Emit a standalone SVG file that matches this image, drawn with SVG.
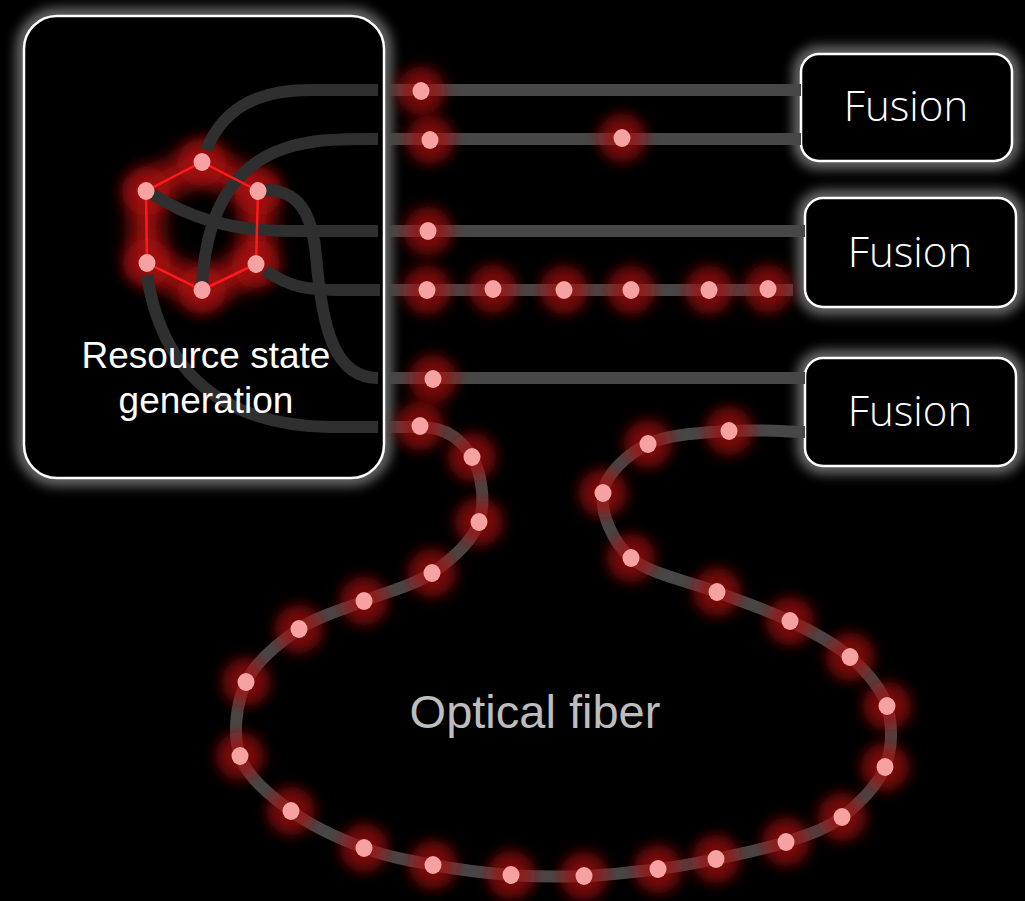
<svg xmlns="http://www.w3.org/2000/svg" xmlns:xlink="http://www.w3.org/1999/xlink" width="1025" height="901" viewBox="0 0 1025 901">
  <style>
    .box { fill: #000; stroke: #fff; stroke-width: 2.5; }
    .halo { fill: none; stroke: #6a6a6a; stroke-width: 16; }
    .inner { fill: none; stroke: #2f2f2f; stroke-width: 12; }
    .wire { fill: none; stroke: #474747; stroke-width: 12; }
    .label { font-family: "Liberation Sans", Arial, sans-serif; text-anchor: middle; }
    .fusion { font-family: "Open Sans", "Noto Sans", sans-serif; font-weight: 300; font-size: 42px; fill: #fff; text-anchor: middle; }
    .dot { fill: #f6a2a2; }
    .glow { fill: #a81010; opacity: 0.7; }
  </style>
  <defs>
    <filter id="soft" x="-100%" y="-100%" width="300%" height="300%">
      <feGaussianBlur stdDeviation="7"/>
    </filter>
    <filter id="haze" x="-20%" y="-20%" width="140%" height="140%">
      <feGaussianBlur stdDeviation="6"/>
    </filter>
    <filter id="ring" x="-50%" y="-50%" width="200%" height="200%">
      <feGaussianBlur stdDeviation="10"/>
    </filter>
    <g id="photon">
      <circle class="glow" r="24" filter="url(#soft)"/>
      <ellipse class="dot" rx="8.5" ry="9"/>
    </g>
  </defs>

  <rect width="1025" height="901" fill="#000"/>

  <!-- resource state generator -->
  <g id="resource-state-generation">
    <rect class="halo" x="24" y="16" width="360" height="462" rx="33" filter="url(#haze)"/>
    <rect class="box" x="24" y="16" width="360" height="462" rx="33"/>
    <!-- glow behind the hexagonal cluster state -->
    <polygon points="202,162 258,191 256,264 202,290 147,263 146,191" fill="none" stroke="#c01414" stroke-width="32" opacity="0.8" filter="url(#ring)"/>
    <g>
      <circle class="glow" cx="202" cy="162" r="24" filter="url(#soft)"/>
      <circle class="glow" cx="258" cy="191" r="24" filter="url(#soft)"/>
      <circle class="glow" cx="256" cy="264" r="24" filter="url(#soft)"/>
      <circle class="glow" cx="202" cy="290" r="24" filter="url(#soft)"/>
      <circle class="glow" cx="147" cy="263" r="24" filter="url(#soft)"/>
      <circle class="glow" cx="146" cy="191" r="24" filter="url(#soft)"/>
    </g>
    <!-- waveguides leaving the cluster -->
    <g id="internal-routing">
      <path class="inner" d="M206,150 C222,112 252,90 310,90 L378,90"/>
      <path class="inner" d="M202,285 C205,230 222,175 275,152 C310,138 340,139 378,139"/>
      <path class="inner" d="M152,194 C185,215 225,231 290,231 L378,231"/>
      <path class="inner" d="M265,270 C290,288 310,290 340,290 L380,290"/>
      <path class="inner" d="M265,190 C300,190 312,215 316,255 C322,330 335,378 378,378"/>
      <path class="inner" d="M147,275 C160,360 210,425 330,427 L378,427"/>
    </g>
    <polygon points="202,162 258,191 256,264 202,290 147,263 146,191" fill="none" stroke="#ff1a1a" stroke-width="2.5"/>
    <g class="dot">
      <ellipse cx="202" cy="162" rx="8.5" ry="9"/>
      <ellipse cx="258" cy="191" rx="8.5" ry="9"/>
      <ellipse cx="256" cy="264" rx="8.5" ry="9"/>
      <ellipse cx="202" cy="290" rx="8.5" ry="9"/>
      <ellipse cx="147" cy="263" rx="8.5" ry="9"/>
      <ellipse cx="146" cy="191" rx="8.5" ry="9"/>
    </g>
    <text class="label" x="206" y="368" font-size="37" fill="#fff">Resource state</text>
    <text class="label" x="206" y="413" font-size="37" fill="#fff">generation</text>
  </g>

  <!-- fusion units -->
  <g id="fusion-1">
    <rect class="halo" x="801" y="54" width="211" height="107" rx="18" filter="url(#haze)"/>
    <rect class="box" x="801" y="54" width="211" height="107" rx="18"/>
    <text class="fusion" x="906" y="121">Fusion</text>
  </g>
  <g id="fusion-2">
    <rect class="halo" x="805" y="198" width="211" height="109" rx="18" filter="url(#haze)"/>
    <rect class="box" x="805" y="198" width="211" height="109" rx="18"/>
    <text class="fusion" x="910" y="267">Fusion</text>
  </g>
  <g id="fusion-3">
    <rect class="halo" x="805" y="358" width="211" height="108" rx="18" filter="url(#haze)"/>
    <rect class="box" x="805" y="358" width="211" height="108" rx="18"/>
    <text class="fusion" x="910" y="426">Fusion</text>
  </g>

  <!-- waveguides and fiber delay line -->
  <g id="connectors">
    <path class="wire" d="M390,90 L801,90"/>
    <path class="wire" d="M390,139 L801,139"/>
    <path class="wire" d="M390,231 L805,231"/>
    <path class="wire" d="M390,290 L793,290"/>
    <path class="wire" d="M390,378 L805,378"/>
    <path id="fiber" class="wire" d="M390,427 L420,427 C448,427 462.2,441 472,457
      C481.8,473 485.7,502.7 479,522
      C472.3,541.3 451.2,559.8 432,573
      C412.8,586.2 386.2,591.7 364,601
      C341.8,610.3 318.7,615.5 299,629
      C279.3,642.5 255.8,660.8 246,682
      C236.2,703.2 232.5,734.5 240,756
      C247.5,777.5 270.3,795.7 291,811
      C311.7,826.3 340.3,839 364,848
      C387.7,857 408.5,860.5 433,865
      C457.5,869.5 485.8,873.2 511,875
      C536.2,876.8 559.5,877 584,876
      C608.5,875 636,871.8 658,869
      C680,866.2 694.7,863.5 716,859
      C737.3,854.5 765,849 786,842
      C807,835 825.5,829.5 842,817
      C858.5,804.5 877.5,785.5 885,767
      C892.5,748.5 892.8,724.3 887,706
      C881.2,687.7 866.2,671.2 850,657
      C833.8,642.8 812.2,631.8 790,621
      C767.8,610.2 743.5,602.5 717,592
      C690.5,581.5 650,574.5 631,558
      C612,541.5 600.2,512 603,493
      C605.8,474 627,454.3 648,444
      C669,433.7 702.8,433 729,431
      C755.2,429 793,432 805,432"/>

    <!-- photons in flight -->
    <g id="photons">
      <use xlink:href="#photon" x="421" y="91"/>
      <use xlink:href="#photon" x="430" y="140"/>
      <use xlink:href="#photon" x="622" y="138"/>
      <use xlink:href="#photon" x="428" y="231"/>
      <use xlink:href="#photon" x="427" y="290"/>
      <use xlink:href="#photon" x="493" y="289"/>
      <use xlink:href="#photon" x="564" y="290"/>
      <use xlink:href="#photon" x="631" y="290"/>
      <use xlink:href="#photon" x="709" y="290"/>
      <use xlink:href="#photon" x="768" y="289"/>
      <use xlink:href="#photon" x="433" y="379"/>
      <use xlink:href="#photon" x="420" y="426"/>
      <use xlink:href="#photon" x="472" y="457"/>
      <use xlink:href="#photon" x="479" y="522"/>
      <use xlink:href="#photon" x="432" y="573"/>
      <use xlink:href="#photon" x="364" y="601"/>
      <use xlink:href="#photon" x="299" y="629"/>
      <use xlink:href="#photon" x="246" y="682"/>
      <use xlink:href="#photon" x="240" y="756"/>
      <use xlink:href="#photon" x="291" y="811"/>
      <use xlink:href="#photon" x="364" y="848"/>
      <use xlink:href="#photon" x="433" y="865"/>
      <use xlink:href="#photon" x="511" y="875"/>
      <use xlink:href="#photon" x="584" y="876"/>
      <use xlink:href="#photon" x="658" y="869"/>
      <use xlink:href="#photon" x="716" y="859"/>
      <use xlink:href="#photon" x="786" y="842"/>
      <use xlink:href="#photon" x="842" y="817"/>
      <use xlink:href="#photon" x="885" y="767"/>
      <use xlink:href="#photon" x="887" y="706"/>
      <use xlink:href="#photon" x="850" y="657"/>
      <use xlink:href="#photon" x="790" y="621"/>
      <use xlink:href="#photon" x="717" y="592"/>
      <use xlink:href="#photon" x="631" y="558"/>
      <use xlink:href="#photon" x="603" y="493"/>
      <use xlink:href="#photon" x="648" y="444"/>
      <use xlink:href="#photon" x="729" y="431"/>
    </g>
  </g>

  <text id="fiber-label" class="label" x="535" y="728" font-size="47" fill="#bdbdbd">Optical fiber</text>
</svg>
